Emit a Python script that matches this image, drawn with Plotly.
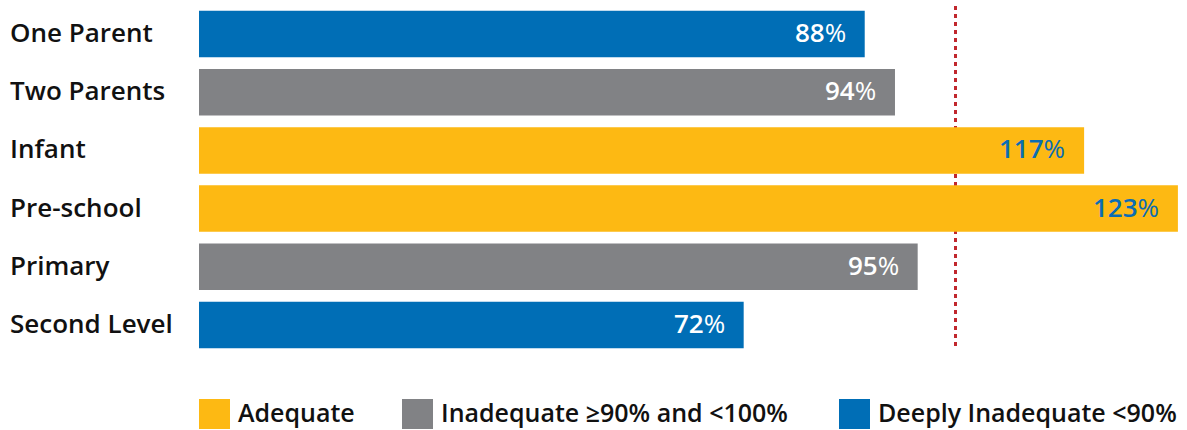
import plotly.graph_objects as go

categories = ["One Parent", "Two Parents", "Infant", "Pre-school", "Primary", "Second Level"]
bar_values = [88, 92, 117, 129.4, 95, 72]          # bar lengths as drawn
label_values = ["88", "94", "117", "123", "95", "72"]  # printed labels
status = ["Deeply Inadequate <90%", "Inadequate ≥90% and <100%", "Adequate", "Adequate",
          "Inadequate ≥90% and <100%", "Deeply Inadequate <90%"]
legend_order = ["Adequate", "Inadequate ≥90% and <100%", "Deeply Inadequate <90%"]
threshold = 100

colors = {"Adequate": "#FDB913", "Inadequate ≥90% and <100%": "#818285",
          "Deeply Inadequate <90%": "#006EB6"}
text_colors = {"Adequate": "#0B6DB3", "Inadequate ≥90% and <100%": "#FFFFFF",
               "Deeply Inadequate <90%": "#FFFFFF"}

FONT = "Open Sans"
W, H = 1187, 430
L, R, T, B = 199, 0, 5, 76
pw, ph = W - L - R, H - T - B

fig = go.Figure()
fig.add_trace(go.Bar(
    x=bar_values, y=categories, orientation="h",
    marker=dict(color=[colors[s] for s in status], line=dict(width=0)),
    showlegend=False, hoverinfo="skip",
))

annotations = []
for c, v, lab, s in zip(categories, bar_values, label_values, status):
    annotations.append(dict(
        x=v, y=c, xref="x", yref="y", xanchor="right", yanchor="middle",
        xshift=-17, yshift=2, showarrow=False,
        text=f"<span style='font-weight:600'>{lab}</span>%",
        font=dict(family=FONT, size=26, color=text_colors[s]),
    ))
    annotations.append(dict(
        x=(8 - L) / pw, y=c, xref="paper", yref="y", xanchor="left", yanchor="middle",
        yshift=2, showarrow=False, text=c,
        font=dict(family=FONT, size=26, color="#111111", weight=600),
    ))

shapes = [dict(type="line", xref="x", yref="paper", x0=threshold, x1=threshold,
               y0=(T + ph - 346) / ph, y1=1, layer="below",
               line=dict(color="#C1272D", width=3, dash="4px,4px"))]

# legend built from squares + labels
leg_x = [199, 402, 839]
for lx, name in zip(leg_x, legend_order):
    x0 = (lx - L) / pw
    x1 = (lx + 31 - L) / pw
    y0 = (T + ph - 429) / ph
    y1 = (T + ph - 399) / ph
    shapes.append(dict(type="rect", xref="paper", yref="paper", x0=x0, x1=x1, y0=y0, y1=y1,
                       fillcolor=colors[name], line=dict(width=0)))
    annotations.append(dict(
        x=(lx + 37 - L) / pw, y=(y0 + y1) / 2, xref="paper", yref="paper",
        xanchor="left", yanchor="middle", yshift=2, showarrow=False, text=name,
        font=dict(family=FONT, size=25, color="#111111", weight=600),
    ))

fig.update_layout(
    width=W, height=H,
    margin=dict(l=L, r=R, t=T, b=B),
    paper_bgcolor="white", plot_bgcolor="white",
    bargap=0.2,
    xaxis=dict(range=[0, pw / 7.565], visible=False, fixedrange=True),
    yaxis=dict(categoryorder="array", categoryarray=categories, autorange="reversed",
               showticklabels=False, showgrid=False, zeroline=False, showline=False,
               fixedrange=True),
    annotations=annotations, shapes=shapes,
    font=dict(family=FONT),
)

fig.write_html("out.html", config={"displayModeBar": False},
               post_script="document.body.style.margin='0';document.body.style.overflow='hidden';")
